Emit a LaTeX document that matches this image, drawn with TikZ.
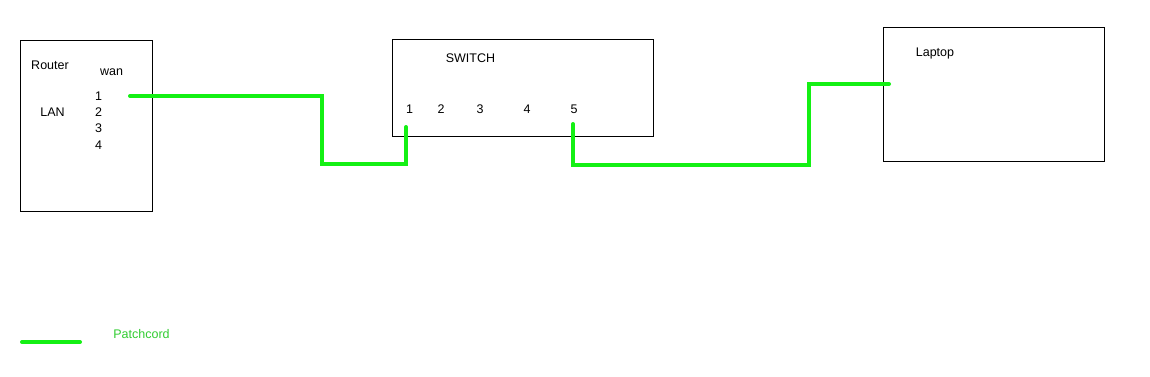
\documentclass[tikz,border=0pt]{standalone}
\usepackage{fontspec}
\setmainfont{Liberation Sans}
\definecolor{cordgreen}{RGB}{20,240,20}
\definecolor{labelgreen}{RGB}{50,205,50}
\begin{document}
\begin{tikzpicture}[x=1pt,y=-1pt,
  box/.style={draw=black,line width=1pt,fill=white,inner sep=0pt},
  lbl/.style={inner sep=0pt,font=\fontsize{12.5}{14}\selectfont},
  cord/.style={draw=cordgreen,line width=4pt,line cap=round,line join=miter}]
\useasboundingbox[fill=white] (0,0) rectangle (1150,376);
% boxes
\node[box,minimum width=132pt,minimum height=171pt] (router) at (86,125.5) {};
\node[box,minimum width=261pt,minimum height=97pt] (switch) at (522.5,87.5) {};
\node[box,minimum width=221pt,minimum height=134pt] (laptop) at (993.5,94) {};
% router labels
\node[lbl] (routerlbl) at (50,65) {Router};
\node[lbl] (wan) at (111.5,72) {wan};
\node[lbl] (lan) at (52.5,112) {LAN};
\node[lbl] (rp1) at (98.5,96) {1};
\node[lbl] (rp2) at (98.5,112) {2};
\node[lbl] (rp3) at (98.5,128) {3};
\node[lbl] (rp4) at (98.5,145) {4};
% switch labels
\node[lbl] (switchlbl) at (470.5,58) {SWITCH};
\node[lbl] (sp1) at (409.5,109) {1};
\node[lbl] (sp2) at (441,109) {2};
\node[lbl] (sp3) at (480,109) {3};
\node[lbl] (sp4) at (527,109) {4};
\node[lbl] (sp5) at (574,109) {5};
% laptop label
\node[lbl] (laptoplbl) at (935,53) {Laptop};
% cord endpoints
\coordinate (r1) at (130,96);
\coordinate (s1) at (406,127);
\coordinate (s5) at (573,124);
\coordinate (lt) at (889,84);
% cords
\draw[cord] (r1) -- (322,96) |- (406,164) -- (s1);
\draw[cord] (s5) |- (809,165) |- (lt);
% legend
\coordinate (leg1) at (22,342);
\coordinate (leg2) at (80,342);
\draw[cord] (leg1) -- (leg2);
\node[lbl,text=labelgreen] (legtext) at (141.5,334) {Patchcord};
\end{tikzpicture}
\end{document}
